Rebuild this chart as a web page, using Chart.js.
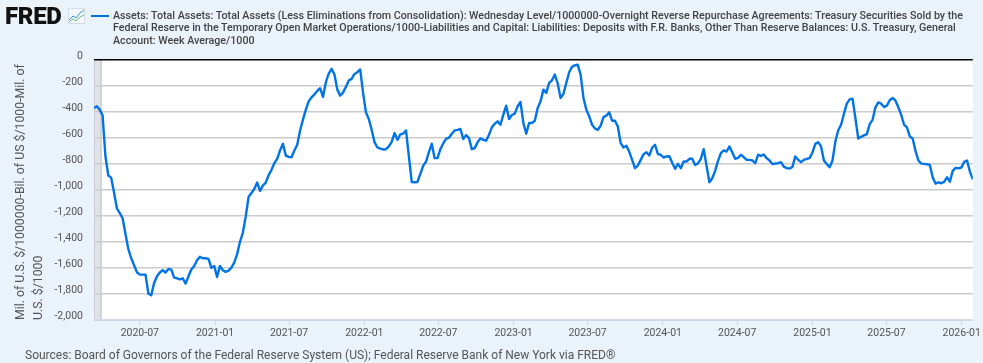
<!DOCTYPE html>
<html>
<head>
<meta charset="utf-8">
<script src="https://cdn.jsdelivr.net/npm/chart.js@4"></script>
<style>
html,body{margin:0;padding:0;background:#EAF2FA;width:983px;height:363px;overflow:hidden}
#wrap{position:relative;width:983px;height:363px}
canvas{position:absolute;left:0;top:0}
.t{position:absolute;white-space:nowrap;font-family:Roboto,sans-serif}
#logo{left:5px;top:4px;font-size:24px;line-height:24px;font-weight:900;color:#111;letter-spacing:-0.3px}
#icon{position:absolute;left:68px;top:8px}
#key{position:absolute;left:91px;top:15px;width:18px;height:2px;background:#0073e6}
#legend{left:113px;top:9.5px;font-size:10.7px;line-height:12.8px;font-weight:500;color:#444}
#source{left:25px;top:347px;font-size:12px;line-height:16px;color:#555}
</style>
</head>
<body>
<div id="wrap">
<canvas id="c" width="983" height="363"></canvas>
<div class="t" id="logo">FRED</div>
<svg id="icon" width="17" height="16" viewBox="0 0 17 16">
<rect x="0.5" y="0.5" width="16" height="15" fill="#f4f8fc" stroke="#d5dde6"/>
<polyline points="1,12 5,8 8,10 12,5 16,2" fill="none" stroke="#3f8fd8" stroke-width="1"/>
<polyline points="1,14 5,11 8,13 12,9 16,7" fill="none" stroke="#6dbb8e" stroke-width="1"/>
</svg>
<div id="key"></div>
<div class="t" id="legend">Assets: Total Assets: Total Assets (Less Eliminations from Consolidation): Wednesday Level/1000000-Overnight Reverse Repurchase Agreements: Treasury Securities Sold by the<br>Federal Reserve in the Temporary Open Market Operations/1000-Liabilities and Capital: Liabilities: Deposits with F.R. Banks, Other Than Reserve Balances: U.S. Treasury, General<br>Account: Week Average/1000</div>
<div class="t" id="source">Sources: Board of Governors of the Federal Reserve System (US); Federal Reserve Bank of New York via FRED®</div>
</div>
<script>
const firstWeek = '2020-03-11';
const lastWeek = '2026-01-28';
const recessionEnd = '2020-03-30';
const tickDates = ['2020-07-01','2021-01-01','2021-07-01','2022-01-01','2022-07-01','2023-01-01','2023-07-01','2024-01-01','2024-07-01','2025-01-01','2025-07-01','2026-01-01'];
const yTitle = ['Mil. of U.S. $/1000000-Bil. of US $/1000-Mil. of','U.S. $/1000'];
const weeklyValues = [
-370,-356,-382,-425,-742,-889,-905,-1020,-1141,-1177,-1218,-1339,-1455,-1525,-1579,-1633,-1651,-1651,-1651,-1797,
-1810,-1715,-1664,-1635,-1617,-1635,-1607,-1612,-1674,-1679,-1687,-1679,-1720,-1664,-1612,-1584,-1540,-1514,-1525,-1525,
-1530,-1599,-1584,-1669,-1584,-1617,-1630,-1620,-1597,-1558,-1494,-1398,-1329,-1205,-1054,-1023,-992,-943,-1007,-966,
-943,-887,-845,-794,-760,-696,-645,-735,-745,-748,-696,-652,-542,-459,-382,-318,-287,-264,-238,-217,
-284,-171,-104,-68,-112,-228,-274,-251,-207,-158,-145,-107,-94,-73,-253,-403,-454,-537,-632,-673,
-681,-688,-686,-665,-629,-562,-614,-573,-567,-542,-742,-938,-940,-938,-876,-814,-781,-709,-645,-755,
-755,-686,-642,-606,-598,-567,-542,-537,-531,-608,-578,-601,-686,-678,-632,-603,-614,-621,-575,-518,
-490,-472,-498,-421,-351,-454,-423,-413,-356,-323,-485,-567,-485,-485,-467,-369,-318,-228,-253,-176,
-156,-112,-181,-292,-261,-176,-94,-53,-40,-37,-112,-292,-382,-433,-498,-526,-537,-506,-439,-428,
-403,-467,-467,-511,-639,-673,-660,-706,-768,-832,-812,-768,-724,-709,-734,-675,-652,-724,-729,-750,
-742,-740,-791,-837,-799,-832,-781,-781,-760,-760,-807,-796,-760,-686,-814,-940,-910,-853,-776,-717,
-696,-704,-665,-711,-760,-753,-729,-747,-768,-768,-773,-794,-729,-737,-727,-755,-773,-801,-796,-794,
-786,-820,-832,-835,-822,-742,-768,-786,-768,-760,-755,-711,-645,-632,-665,-773,-801,-825,-773,-627,
-540,-498,-413,-336,-303,-297,-447,-604,-591,-580,-570,-493,-460,-364,-326,-336,-362,-351,-310,-292,
-313,-364,-421,-498,-519,-588,-604,-699,-773,-797,-799,-802,-807,-902,-951,-941,-948,-938,-902,-936,
-853,-830,-833,-828,-784,-773,-858,-918
];
const WEEK = 7 * 864e5;
const t0 = Date.parse(firstWeek);
const points = weeklyValues.map((v, i) => ({x: t0 + i * WEEK, y: v}));
const BLUE = '#0073e6';
const GRID = '#cbcbcb';

const plotBack = {
  id: 'plotBack',
  beforeDraw(chart) {
    const {ctx, chartArea: a, scales} = chart;
    ctx.save();
    ctx.fillStyle = '#fff';
    ctx.fillRect(a.left, a.top, a.right - a.left, a.bottom - a.top);
    const e = scales.x.getPixelForValue(Date.parse(recessionEnd));
    ctx.fillStyle = '#dfe2e7';
    ctx.fillRect(a.left, a.top, e - a.left, a.bottom - a.top);
    ctx.fillStyle = '#cbced3';
    ctx.fillRect(e - 1.5, a.top, 1.5, a.bottom - a.top);
    ctx.fillRect(a.left, a.top, 1, a.bottom - a.top);
    ctx.restore();
  }
};

new Chart(document.getElementById('c'), {
  type: 'line',
  data: {datasets: [{label: 'Series', data: points, borderColor: BLUE, borderWidth: 2.4, pointRadius: 0, tension: 0, fill: false, borderJoinStyle: 'round'}]},
  options: {
    responsive: false,
    animation: false,
    parsing: false,
    layout: {padding: {top: 60, right: 10, left: 0, bottom: 0}},
    plugins: {legend: {display: false}, title: {display: false}, tooltip: {enabled: false}},
    scales: {
      x: {
        type: 'linear',
        min: t0,
        max: Date.parse(lastWeek),
        afterBuildTicks(s) { s.ticks = tickDates.map(d => ({value: Date.parse(d)})); },
        afterFit(s) { s.height = 43; },
        border: {color: '#ccd6eb', width: 1},
        grid: {drawOnChartArea: false, drawTicks: true, tickLength: 5, color: '#ccd6eb'},
        ticks: {
          autoSkip: false, maxRotation: 0, minRotation: 0, padding: 2,
          color: '#555', font: {family: 'Roboto', size: 10.5},
          callback(v) { return new Date(v).toISOString().slice(0, 7); }
        }
      },
      y: {
        min: -2000,
        max: 0,
        afterFit(s) { s.width = 94; },
        border: {display: false},
        grid: {
          drawTicks: false,
          lineWidth: 1.6,
          color: c => c.tick && c.tick.value === 0 ? '#000' : (c.tick && c.tick.value === -2000 ? '#d3dcea' : GRID)
        },
        ticks: {
          stepSize: 200, padding: 11, labelOffset: -4,
          color: '#555', font: {family: 'Roboto', size: 10.5},
          callback(v) { return v.toLocaleString('en-US'); }
        },
        title: {
          display: true, text: yTitle, align: 'start',
          color: '#555', font: {family: 'Roboto', size: 12.3, lineHeight: 1.45},
          padding: {top: 12, bottom: 0}
        }
      }
    }
  },
  plugins: [plotBack]
});
</script>
</body>
</html>
